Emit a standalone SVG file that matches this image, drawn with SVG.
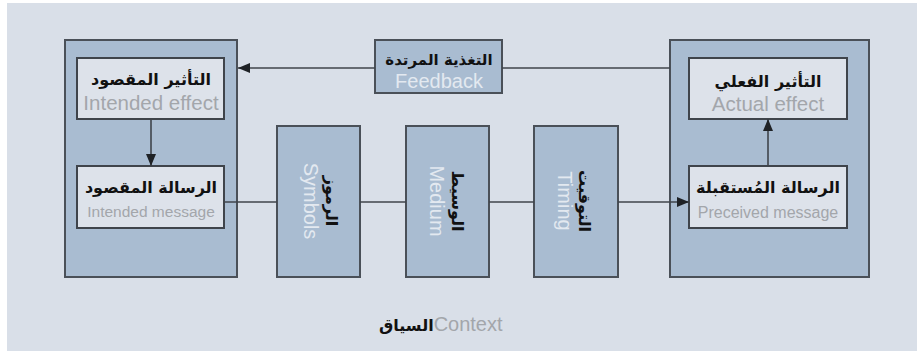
<svg xmlns="http://www.w3.org/2000/svg" width="917" height="351" viewBox="0 0 917 351">
  <defs>
    <marker id="arrow" viewBox="0 0 12 10" refX="12" refY="5" markerWidth="12" markerHeight="10" markerUnits="userSpaceOnUse" orient="auto">
      <path d="M0,0 L12,5 L0,10 Z" fill="#1f2226"/>
    </marker>
    <style>
      .outer { fill: #a9bcd1; stroke: #4a5058; stroke-width: 2; }
      .inner { fill: #dde2ea; stroke: #3f444b; stroke-width: 2; }
      .link { fill: none; stroke: #3f444b; stroke-width: 1.6; }
      .ar { font-family: "DejaVu Sans", "Noto Sans", sans-serif; font-weight: bold; fill: #111; text-anchor: middle; }
      .en { font-family: "Liberation Sans", Arial, sans-serif; fill: #a3a6ab; text-anchor: middle; }
      .en-light { font-family: "Liberation Sans", Arial, sans-serif; fill: #e3e9f0; text-anchor: middle; }
    </style>
  </defs>

  <!-- canvas -->
  <rect x="0" y="0" width="917" height="351" fill="#ffffff"/>
  <rect x="7" y="3" width="910" height="348" fill="#d9dfe8"/>

  <!-- sender -->
  <g id="sender">
    <rect class="outer" x="65" y="40" width="172" height="237"/>
  </g>
  <g id="intended-effect">
    <rect class="inner" x="77" y="58" width="147" height="61"/>
    <text class="ar" x="151" y="85" font-size="16">التأثير المقصود</text>
    <text class="en" x="151" y="110" font-size="20.5">Intended effect</text>
  </g>
  <g id="intended-message">
    <rect class="inner" x="77" y="166" width="147" height="62"/>
    <text class="ar" x="151" y="193" font-size="16">الرسالة المقصود</text>
    <text class="en" x="151" y="217" font-size="15.5">Intended message</text>
  </g>

  <!-- receiver -->
  <g id="receiver">
    <rect class="outer" x="670" y="40" width="199" height="237"/>
  </g>
  <g id="actual-effect">
    <rect class="inner" x="689" y="58" width="158" height="61"/>
    <text class="ar" x="768" y="87" font-size="16">التأثير الفعلي</text>
    <text class="en" x="768" y="111" font-size="20.5">Actual effect</text>
  </g>
  <g id="perceived-message">
    <rect class="inner" x="689" y="166" width="158" height="62"/>
    <text class="ar" x="768" y="193" font-size="16">الرسالة المُستقبلة</text>
    <text class="en" x="768" y="218" font-size="16">Preceived message</text>
  </g>

  <!-- feedback -->
  <g id="feedback">
    <rect class="outer" x="375" y="40" width="127" height="53"/>
    <text class="ar" x="439" y="65" font-size="15">التغذية المرتدة</text>
    <text class="en-light" x="439" y="88" font-size="20">Feedback</text>
  </g>

  <!-- channel stages, labels run top to bottom -->
  <g id="symbols">
    <rect class="outer" x="277" y="126" width="83" height="151"/>
    <g transform="translate(311,201) rotate(90)">
      <text class="en-light" x="0" y="7" font-size="20">Symbols</text>
      <text class="ar" x="0" y="-15" font-size="16">الرموز</text>
    </g>
  </g>
  <g id="medium">
    <rect class="outer" x="406" y="126" width="83" height="151"/>
    <g transform="translate(437,201) rotate(90)">
      <text class="en-light" x="0" y="7" font-size="20">Medium</text>
      <text class="ar" x="0" y="-15" font-size="16">الوسيط</text>
    </g>
  </g>
  <g id="timing">
    <rect class="outer" x="534" y="126" width="84" height="151"/>
    <g transform="translate(565,201) rotate(90)">
      <text class="en-light" x="0" y="7" font-size="20">Timing</text>
      <text class="ar" x="0" y="-14" font-size="16">التوقيت</text>
    </g>
  </g>

  <!-- context caption -->
  <g id="context">
    <text x="379" y="331"><tspan class="ar" font-size="16" style="text-anchor:start">السياق</tspan><tspan font-family="Liberation Sans, Arial, sans-serif" font-size="20" fill="#a3a6ab">Context</tspan></text>
  </g>

  <!-- connectors -->
  <g id="connectors">
    <line class="link" x1="670" y1="68" x2="502" y2="68"/>
    <line class="link" x1="375" y1="68" x2="238" y2="68" marker-end="url(#arrow)"/>
    <line class="link" x1="151" y1="119" x2="151" y2="166" marker-end="url(#arrow)"/>
    <line class="link" x1="224" y1="202" x2="277" y2="202"/>
    <line class="link" x1="360" y1="202" x2="406" y2="202"/>
    <line class="link" x1="489" y1="202" x2="534" y2="202"/>
    <line class="link" x1="618" y1="202" x2="689" y2="202" marker-end="url(#arrow)"/>
    <line class="link" x1="768" y1="166" x2="768" y2="119" marker-end="url(#arrow)"/>
  </g>
</svg>
